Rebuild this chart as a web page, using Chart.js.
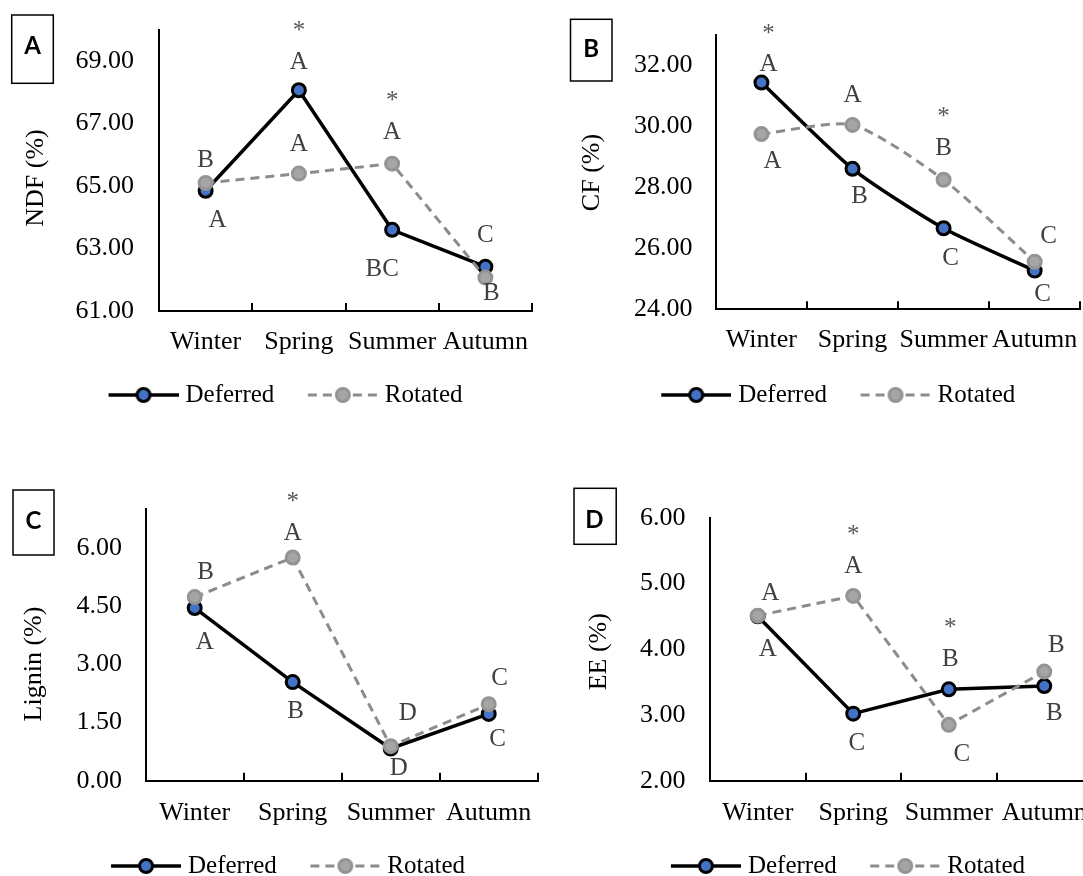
<!DOCTYPE html>
<html>
<head>
<meta charset="utf-8">
<title>Seasonal fibre and fat</title>
<script src="https://cdn.jsdelivr.net/npm/chart.js@4.4.1/dist/chart.umd.min.js"></script>
<style>
  html, body { margin: 0; padding: 0; background: #fff; overflow: hidden; }
  body { width: 1083px; height: 876px; position: relative; }
  canvas { position: absolute; }
</style>
</head>
<body>
<canvas id="chartA" width="540" height="438" style="left:0;top:0"></canvas>
<canvas id="chartB" width="543" height="438" style="left:540px;top:0"></canvas>
<canvas id="chartC" width="540" height="460" style="left:0;top:438px"></canvas>
<canvas id="chartD" width="560" height="460" style="left:540px;top:438px"></canvas>
<script>
const seasons = ['Winter', 'Spring', 'Summer', 'Autumn'];
const seriesNames = ['Deferred', 'Rotated'];

// A - NDF
const ndfDeferred = [64.85, 68.07, 63.60, 62.42];
const ndfRotated = [65.10, 65.40, 65.72, 62.07];
const ndfDeferredLetters = ['A', 'A', 'BC', 'C'];
const ndfRotatedLetters = ['B', 'A', 'A', 'B'];
const ndfStars = [false, true, true, false];
const ndfTicks = [61, 63, 65, 67, 69];

// B - CF
const cfDeferred = [31.44, 28.61, 26.66, 25.27];
const cfRotated = [29.75, 30.05, 28.25, 25.56];
const cfDeferredLetters = ['A', 'B', 'C', 'C'];
const cfRotatedLetters = ['A', 'A', 'B', 'C'];
const cfStars = [true, false, true, false];
const cfTicks = [24, 26, 28, 30, 32];

// C - Lignin
const ligninDeferred = [4.45, 2.54, 0.83, 1.72];
const ligninRotated = [4.73, 5.75, 0.89, 1.97];
const ligninDeferredLetters = ['A', 'B', 'D', 'C'];
const ligninRotatedLetters = ['B', 'A', 'D', 'C'];
const ligninStars = [false, true, false, false];
const ligninTicks = [0, 1.5, 3, 4.5, 6];

// D - EE
const eeDeferred = [4.50, 3.02, 3.39, 3.44];
const eeRotated = [4.51, 4.81, 2.85, 3.66];
const eeDeferredLetters = ['A', 'C', 'B', 'B'];
const eeRotatedLetters = ['A', 'A', 'C', 'B'];
const eeStars = [false, true, true, false];
const eeTicks = [2, 3, 4, 5, 6];

const serif = '"Liberation Serif", "Times New Roman", serif';
Chart.defaults.font.family = serif;
Chart.defaults.color = '#000';

const styles = [
  { line: '#000000', width: 3.5, dash: [], fill: '#4472C4', stroke: '#000000' },
  { line: '#8C8C8C', width: 3, dash: [9, 6], fill: '#A5A5A5', stroke: '#949494' }
];

// legend sample: blank margin on the left so the items sit apart like the original
function legendImage(s) {
  const c = document.createElement('canvas');
  c.width = 99; c.height = 20;
  const g = c.getContext('2d');
  g.strokeStyle = s.line; g.lineWidth = s.width; g.setLineDash(s.dash);
  g.beginPath(); g.moveTo(29, 10); g.lineTo(99, 10); g.stroke();
  g.setLineDash([]);
  g.beginPath(); g.arc(64, 10, 6.5, 0, Math.PI * 2);
  g.fillStyle = s.fill; g.fill();
  g.lineWidth = 3; g.strokeStyle = s.stroke; g.stroke();
  return c;
}
const legendImages = styles.map(legendImage);

// letters, asterisks, panel tag and y title
const notesPlugin = {
  id: 'notes',
  afterDatasetsDraw(chart, args, o) {
    const ctx = chart.ctx;
    ctx.save();
    ctx.font = '25px ' + serif;
    ctx.textAlign = 'center';
    ctx.textBaseline = 'alphabetic';
    const top = [];
    [o.dLetters, o.rLetters].forEach((letters, di) => {
      chart.getDatasetMeta(di).data.forEach((pt, i) => {
        const off = o.offsets[di][i];
        const x = pt.x + off[0], y = pt.y + off[1];
        ctx.fillStyle = '#404040';
        ctx.fillText(letters[i], x, y + 8.3);
        if (!top[i] || y < top[i].y) top[i] = { x, y };
      });
    });
    ctx.fillStyle = '#595959';
    o.stars.forEach((s, i) => {
      if (s) ctx.fillText('*', top[i].x, top[i].y - 35 + 12.5);
    });
    ctx.restore();
  },
  afterDraw(chart, args, o) {
    const ctx = chart.ctx, b = o.box;
    ctx.save();
    ctx.strokeStyle = '#000';
    ctx.lineWidth = 1.5;
    ctx.strokeRect(b.x, b.y, b.w, b.h);
    ctx.fillStyle = '#000';
    ctx.font = 'bold 24px Lato, "Liberation Sans", sans-serif';
    ctx.textAlign = 'center';
    ctx.textBaseline = 'alphabetic';
    ctx.fillText(o.tag, b.tx, b.ty + 8.6);
    ctx.translate(o.titleX, o.titleY);
    ctx.rotate(-Math.PI / 2);
    ctx.font = '26px ' + serif;
    ctx.textBaseline = 'middle';
    ctx.fillText(o.title, 0, 0);
    ctx.restore();
  }
};

// labels hang over the plot edges in the original, so the scales reserve no extra room
function noEdgePadding(scale) {
  scale.paddingLeft = 0;
  scale.paddingRight = 0;
  scale.paddingTop = 0;
  scale.paddingBottom = 0;
}

function buildPanel(id, p, L) {
  const datasets = [p.deferred, p.rotated].map((vals, i) => ({
    label: seriesNames[i],
    data: vals,
    order: 1 - i,
    borderColor: styles[i].line,
    borderWidth: styles[i].width,
    borderDash: styles[i].dash,
    pointRadius: 6.5,
    pointBorderWidth: 3,
    pointBackgroundColor: styles[i].fill,
    pointBorderColor: styles[i].stroke,
    tension: p.smooth ? 0.22 : 0,
    fill: false
  }));

  new Chart(document.getElementById(id), {
    type: 'line',
    data: { labels: seasons, datasets },
    plugins: [notesPlugin],
    options: {
      responsive: false,
      animation: false,
      layout: { padding: L.pad, autoPadding: false },
      plugins: {
        tooltip: { enabled: false },
        legend: {
          position: 'bottom',
          labels: {
            usePointStyle: true,
            pointStyleWidth: 88,
            padding: 10,
            color: '#000',
            font: { size: 25 },
            generateLabels: (chart) => chart.data.datasets.map((ds, i) => ({
              text: ds.label,
              datasetIndex: i,
              pointStyle: legendImages[i],
              fillStyle: styles[i].fill,
              strokeStyle: styles[i].stroke,
              lineWidth: 0,
              hidden: false
            }))
          }
        },
        notes: {
          dLetters: p.dLetters, rLetters: p.rLetters, stars: p.stars,
          offsets: L.offsets, box: L.box, tag: p.tag,
          title: p.title, titleX: L.titleX, titleY: L.titleY
        }
      },
      scales: {
        x: {
          offset: true,
          grid: { display: true, drawOnChartArea: false, drawTicks: true, tickLength: -8, offset: true, color: '#000', lineWidth: 2 },
          border: { display: true, color: '#000', width: 2 },
          ticks: { color: '#000', font: { size: 26 }, padding: L.xTickPad, autoSkip: false, maxRotation: 0, minRotation: 0 },
          afterFit(scale) { scale.height = L.xAxisH; noEdgePadding(scale); }
        },
        y: {
          min: p.min,
          max: p.max,
          grid: { display: false, drawTicks: false },
          border: { display: true, color: '#000', width: 2 },
          ticks: { color: '#000', font: { size: 26 }, padding: L.yTickPad, autoSkip: false, callback: (v) => Number(v).toFixed(2) },
          afterBuildTicks(scale) { scale.ticks = p.ticks.map((v) => ({ value: v })); },
          afterFit(scale) { scale.width = L.yAxisW; noEdgePadding(scale); }
        }
      }
    }
  });
}

buildPanel('chartA',
  { deferred: ndfDeferred, rotated: ndfRotated, dLetters: ndfDeferredLetters, rLetters: ndfRotatedLetters,
    stars: ndfStars, ticks: ndfTicks, min: 61, max: 70, tag: 'A', title: 'NDF (%)', smooth: false },
  { pad: { left: 15.6, right: 8, top: 30, bottom: 20.5 }, yAxisW: 143.4, xAxisH: 61.5, yTickPad: 25, xTickPad: 23.4,
    titleX: 36, titleY: 178,
    box: { x: 11.7, y: 15, w: 41.6, h: 68.3, tx: 32.5, ty: 45.3 },
    offsets: [
      [[12, 28], [0, -30], [-10, 38], [0, -33]],
      [[0, -24], [0, -31], [0, -33], [6, 14]]
    ] });

buildPanel('chartB',
  { deferred: cfDeferred, rotated: cfRotated, dLetters: cfDeferredLetters, rLetters: cfRotatedLetters,
    stars: cfStars, ticks: cfTicks, min: 24, max: 33, tag: 'B', title: 'CF (%)', smooth: true },
  { pad: { left: 32.8, right: 2.8, top: 35, bottom: 20.5 }, yAxisW: 143.1, xAxisH: 63.2, yTickPad: 23.5, xTickPad: 23.1,
    titleX: 52, titleY: 172.5,
    box: { x: 30.5, y: 19.3, w: 41.5, h: 61.7, tx: 51.2, ty: 48.3 },
    offsets: [
      [[7, -19.4], [7, 26], [7, 28.4], [8, 22.6]],
      [[11, 25.7], [0, -31.7], [0, -33.3], [14, -26.7]]
    ] });

buildPanel('chartC',
  { deferred: ligninDeferred, rotated: ligninRotated, dLetters: ligninDeferredLetters, rLetters: ligninRotatedLetters,
    stars: ligninStars, ticks: ligninTicks, min: 0, max: 7, tag: 'C', title: 'Lignin (%)', smooth: false },
  { pad: { left: 14.9, right: 2.3, top: 71, bottom: 9.5 }, yAxisW: 130.8, xAxisH: 62.8, yTickPad: 23.7, xTickPad: 24.4,
    titleX: 34.4, titleY: 226,
    box: { x: 13, y: 52, w: 41, h: 65, tx: 33.4, ty: 82 },
    offsets: [
      [[10, 32.3], [3, 28], [8, 18.4], [9, 24]],
      [[11, -26], [0, -26.3], [17, -34.3], [11, -27.3]]
    ] });

buildPanel('chartD',
  { deferred: eeDeferred, rotated: eeRotated, dLetters: eeDeferredLetters, rLetters: eeRotatedLetters,
    stars: eeStars, ticks: eeTicks, min: 2, max: 6, tag: 'D', title: 'EE (%)', smooth: false },
  { pad: { left: 40.4, right: 8, top: 79.7, bottom: 9.5 }, yAxisW: 129.6, xAxisH: 62.8, yTickPad: 24.6, xTickPad: 24.4,
    titleX: 58.9, titleY: 213.7,
    box: { x: 34, y: 50.3, w: 42.2, h: 56, tx: 54.4, ty: 81 },
    offsets: [
      [[10, 31.6], [3.5, 27.7], [1.5, -32], [10, 25.7]],
      [[12.5, -24], [0, -31], [13, 28.3], [12, -27.7]]
    ] });
</script>
</body>
</html>
